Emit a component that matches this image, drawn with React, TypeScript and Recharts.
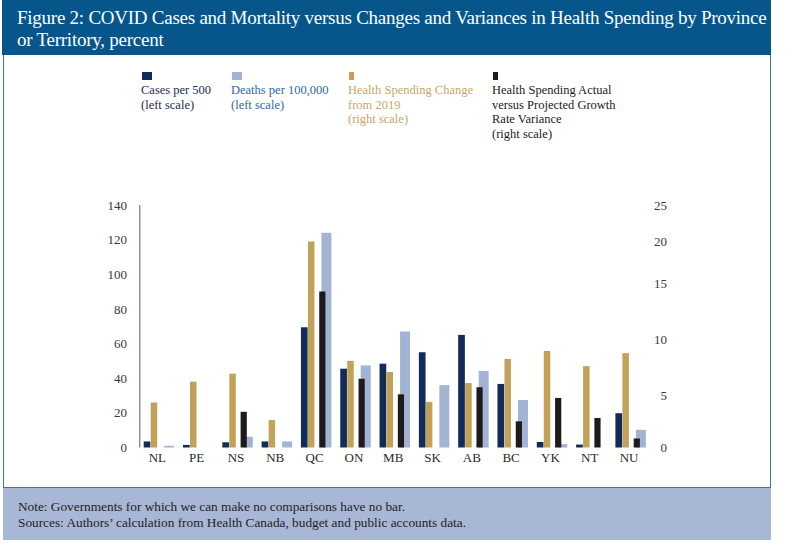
import React from 'react';
import { BarChart, Bar, XAxis, YAxis } from 'recharts';

const serif = '"Liberation Serif", "DejaVu Serif", serif';

// values
const provinces = ['NL', 'PE', 'NS', 'NB', 'QC', 'ON', 'MB', 'SK', 'AB', 'BC', 'YK', 'NT', 'NU'];
const casesPer500 = [3.5, 1.5, 3, 3.5, 69.4, 45.5, 48.4, 55, 65, 36.7, 3.2, 1.7, 19.8];
const deathsPer100k = [1, null, 6.2, 3.5, 124, 47.4, 67, 36, 44.2, 27.4, 2, null, 10.2];
// right scale
const spendingChange = [4.64, 6.79, 7.61, 2.82, 21.25, 8.93, 7.79, 4.7, 6.64, 9.13, 9.95, 8.39, 9.73];
const spendingVariance = [null, null, 3.68, null, 16.07, 7.09, 5.48, null, 6.21, 2.7, 5.11, 3.04, 0.93];

const leftTicks = [0, 20, 40, 60, 80, 100, 120, 140];
// the source figure spaces its right-hand labels unevenly
const rightTickValues = [0, 5.41, 11.19, 16.96, 21.29, 25];
const rightTickLabels = ['0', '5', '10', '15', '20', '25'];

const colors = {
  cases: '#112c58',
  deaths: '#a3b3d3',
  change: '#c2a158',
  variance: '#1f1a1b',
};

const data = provinces.map((prov, i) => ({
  prov,
  cases: casesPer500[i],
  deaths: deathsPer100k[i],
  change: spendingChange[i],
  variance: spendingVariance[i],
}));

const chartW = 700;
const chartH = 290;
const margin = { top: 15, right: 9.3, bottom: 7.5, left: 79.7 };

const RightTick = (props: any) => {
  const { x, y, payload } = props;
  const i = rightTickValues.indexOf(payload.value);
  return (
    <text x={x + 16.3} y={y} dy="0.35em" textAnchor="end" fill="#3a3a3a" fontSize={13} fontFamily={serif}>
      {rightTickLabels[i]}
    </text>
  );
};

const legendItems = [
  { left: 141, marker: 10, color: colors.cases, text: '#1b2e55', lines: ['Cases per 500', '(left scale)'] },
  { left: 231, marker: 10, color: colors.deaths, text: '#2d69a5', lines: ['Deaths per 100,000', '(left scale)'] },
  { left: 348, marker: 5, color: colors.change, text: '#c6a66a', lines: ['Health Spending Change', 'from 2019', '(right scale)'] },
  {
    left: 492,
    marker: 5,
    color: colors.variance,
    text: '#222222',
    lines: ['Health Spending Actual', 'versus Projected Growth', 'Rate Variance', '(right scale)'],
  },
];

export default function App() {
  return (
    <div style={{ position: 'absolute', left: 0, top: 0, width: 800, height: 553, background: '#fff', fontFamily: serif }}>
      {/* title banner */}
      <div
        style={{
          position: 'absolute',
          left: 2,
          top: 0,
          width: 769,
          height: 55,
          background: '#06568b',
          color: '#fff',
          fontSize: 19,
          letterSpacing: '-0.25px',
          lineHeight: '22px',
          whiteSpace: 'nowrap',
          padding: '7px 0 0 15px',
          boxSizing: 'border-box',
        }}
      >
        Figure 2: COVID Cases and Mortality versus Changes and Variances in Health Spending by Province
        <br />
        or Territory, percent
      </div>

      {/* chart frame */}
      <div
        style={{
          position: 'absolute',
          left: 3,
          top: 55,
          width: 768,
          height: 433,
          borderLeft: '1.5px solid #3a74a8',
          borderRight: '1.5px solid #3a74a8',
          borderBottom: '1.5px solid #3a74a8',
          boxSizing: 'border-box',
        }}
      />

      {legendItems.map((it) => (
        <div key={it.left} style={{ position: 'absolute', left: it.left, top: 72 }}>
          <div style={{ width: it.marker, height: 8, marginLeft: 1, background: it.color }} />
          <div style={{ marginTop: 3, fontSize: 12.5, lineHeight: '14.7px', color: it.text, whiteSpace: 'nowrap' }}>
            {it.lines.map((l) => (
              <div key={l}>{l}</div>
            ))}
          </div>
        </div>
      ))}

      {/* left-scale bars */}
      <div style={{ position: 'absolute', left: 0, top: 190 }}>
        <BarChart width={chartW} height={chartH} data={data} margin={margin} barGap={13.8}>
          <XAxis
            dataKey="prov"
            axisLine={false}
            tickLine={false}
            tickSize={0}
            tickMargin={5}
            height={25}
            interval={0}
            tick={{ fill: '#2a2a2a', fontSize: 13, fontFamily: serif, dx: -2 }}
          />
          <YAxis
            yAxisId="left"
            domain={[0, 140]}
            ticks={leftTicks}
            interval={0}
            width={60}
            axisLine={{ stroke: '#8f8f8f', strokeWidth: 1.5 }}
            tickLine={false}
            tickSize={0}
            tickMargin={12.7}
            tick={{ fill: '#3a3a3a', fontSize: 13, fontFamily: serif }}
          />
          <YAxis yAxisId="right" orientation="right" domain={[0, 25]} width={40} tick={false} axisLine={false} tickLine={false} />
          <Bar yAxisId="left" dataKey="cases" fill={colors.cases} barSize={6.7} isAnimationActive={false} />
          <Bar yAxisId="left" dataKey="deaths" fill={colors.deaths} barSize={10} isAnimationActive={false} />
        </BarChart>
      </div>

      {/* right-scale bars, drawn on top */}
      <div style={{ position: 'absolute', left: 0, top: 190 }}>
        <BarChart width={chartW} height={chartH} data={data} margin={margin} barGap={4.8}>
          <XAxis dataKey="prov" axisLine={false} tickLine={false} tick={false} height={25} />
          <YAxis yAxisId="left" domain={[0, 140]} width={60} tick={false} axisLine={false} tickLine={false} />
          <YAxis
            yAxisId="right"
            orientation="right"
            domain={[0, 25]}
            ticks={rightTickValues}
            interval={0}
            width={40}
            axisLine={false}
            tickLine={false}
            tickSize={0}
            tickMargin={0}
            tick={<RightTick />}
          />
          <Bar yAxisId="right" dataKey="change" fill={colors.change} barSize={6.5} isAnimationActive={false} />
          <Bar yAxisId="right" dataKey="variance" fill={colors.variance} barSize={6.2} isAnimationActive={false} />
        </BarChart>
      </div>

      {/* notes */}
      <div
        style={{
          position: 'absolute',
          left: 3,
          top: 488,
          width: 768,
          height: 52,
          background: '#a8b7d5',
          color: '#1e1e1e',
          fontSize: 13.3,
          lineHeight: '16px',
          padding: '11px 0 0 15px',
          boxSizing: 'border-box',
        }}
      >
        <div>Note: Governments for which we can make no comparisons have no bar.</div>
        <div>Sources: Authors’ calculation from Health Canada, budget and public accounts data.</div>
      </div>
    </div>
  );
}
